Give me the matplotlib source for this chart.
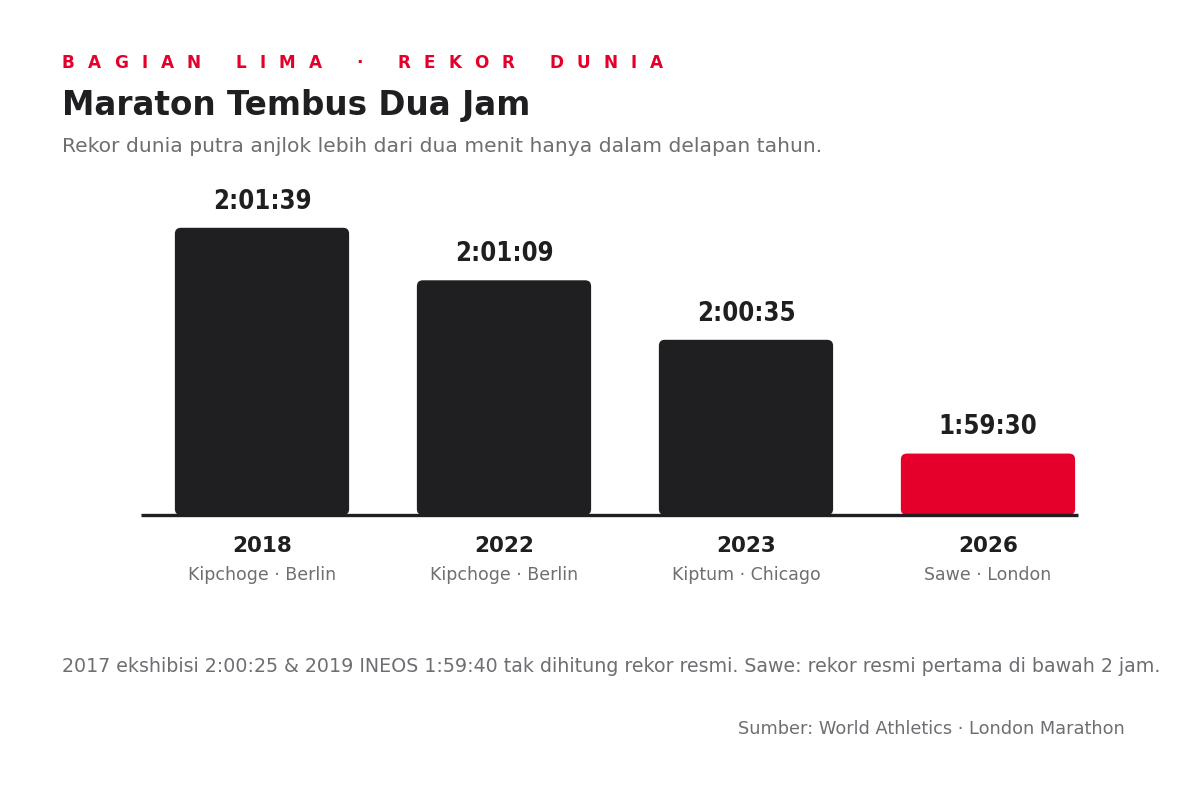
import os
import matplotlib
matplotlib.use("Agg")
import matplotlib.pyplot as plt
from matplotlib import font_manager as fm
from matplotlib.patches import FancyBboxPatch

# data
years = ["2018", "2022", "2023", "2026"]
runners = ["Kipchoge · Berlin", "Kipchoge · Berlin", "Kiptum · Chicago", "Sawe · London"]
times = ["2:01:39", "2:01:09", "2:00:35", "1:59:30"]
highlight = [False, False, False, True]


def to_seconds(t):
    h, m, s = t.split(":")
    return int(h) * 3600 + int(m) * 60 + int(s)


seconds = [to_seconds(t) for t in times]

DARK = "#1f1f21"
RED = "#e4002b"
GREY = "#6e6e73"

# DejaVu shipped with matplotlib, so the metrics are predictable
ttf_dir = os.path.join(matplotlib.get_data_path(), "fonts", "ttf")
REG = fm.FontProperties(fname=os.path.join(ttf_dir, "DejaVuSans.ttf"))
BOLD = fm.FontProperties(fname=os.path.join(ttf_dir, "DejaVuSans-Bold.ttf"))
cond_path = fm.findfont(fm.FontProperties(family="DejaVu Sans", weight="bold",
                                          stretch="condensed"), fallback_to_default=True)
if "Condensed" in os.path.basename(cond_path) and "Bold" in os.path.basename(cond_path):
    COND = fm.FontProperties(fname=cond_path)
    cond_size = 18.4
else:
    COND = BOLD
    cond_size = 16.5


def fp(base, size):
    p = base.copy()
    p.set_size(size)
    return p


W, H = 1187, 796
fig = plt.figure(figsize=(W / 100, H / 100), dpi=100)
fig.patch.set_facecolor("white")

ax = fig.add_axes([141 / W, (H - 515) / H, (1078 - 141) / W, (515 - 180) / H])
ax.set_xlim(-0.5, 3.372)
ax.set_ylim(7134.9, 7326.3)
ax.axis("off")

colors = [RED if h else DARK for h in highlight]
bars = ax.bar(range(len(years)), seconds, width=0.72, bottom=0, color=colors)

# swap plain bars for rounded ones
x_per_px = (ax.get_xlim()[1] - ax.get_xlim()[0]) / (1078 - 141)
y_per_px = (ax.get_ylim()[1] - ax.get_ylim()[0]) / (515 - 180)
y0 = ax.get_ylim()[0]
for b, c in zip(bars, colors):
    b.set_visible(False)
    fb = FancyBboxPatch((b.get_x(), y0), b.get_width(), b.get_height() - y0,
                        boxstyle="round,pad=0,rounding_size=%f" % (6 * x_per_px),
                        mutation_aspect=y_per_px / x_per_px,
                        facecolor=c, edgecolor="none", clip_on=False)
    ax.add_patch(fb)

for i, (s, t) in enumerate(zip(seconds, times)):
    ax.annotate(t, (i, s), xytext=(0, 9.5), textcoords="offset points",
                ha="center", va="bottom", fontproperties=fp(COND, cond_size), color=DARK)
    ax.annotate(years[i], (i, y0), xytext=(0, -22.5),
                textcoords="offset points", ha="center", va="center",
                fontproperties=fp(BOLD, 15.5), color=DARK)
    ax.annotate(runners[i], (i, y0), xytext=(0, -43.5), textcoords="offset points",
                ha="center", va="center", fontproperties=fp(REG, 12.5), color=GREY)

ax.plot([-0.5, 3.372], [y0, y0], color=DARK, lw=2.4, clip_on=False,
        solid_capstyle="butt", zorder=5)

# kicker with letter spacing, one glyph at a time
renderer = fig.canvas.get_renderer()
kx = 62.0
for ch in "BAGIAN LIMA · REKOR DUNIA":
    if ch == " ":
        kx += 21.4
        continue
    t = fig.text(kx / W, 1 - 63 / H, ch, color=RED, fontproperties=fp(BOLD, 12.2),
                 va="center", ha="left")
    kx += t.get_window_extent(renderer).width + 13.2

fig.text(62 / W, 1 - 106 / H, "Maraton Tembus Dua Jam", color=DARK,
         fontproperties=fp(BOLD, 23.5), va="center", ha="left")
fig.text(62 / W, 1 - 147 / H,
         "Rekor dunia putra anjlok lebih dari dua menit hanya dalam delapan tahun.",
         color=GREY, fontproperties=fp(REG, 14.6), va="center", ha="left")
fig.text(62 / W, 1 - 666 / H,
         "2017 ekshibisi 2:00:25 & 2019 INEOS 1:59:40 tak dihitung rekor resmi. "
         "Sawe: rekor resmi pertama di bawah 2 jam.",
         color=GREY, fontproperties=fp(REG, 13.67), va="center", ha="left")
fig.text(1125 / W, 1 - 729 / H, "Sumber: World Athletics · London Marathon",
         color=GREY, fontproperties=fp(REG, 12.8), va="center", ha="right")

fig.savefig("out.png", dpi=100, facecolor="white")
